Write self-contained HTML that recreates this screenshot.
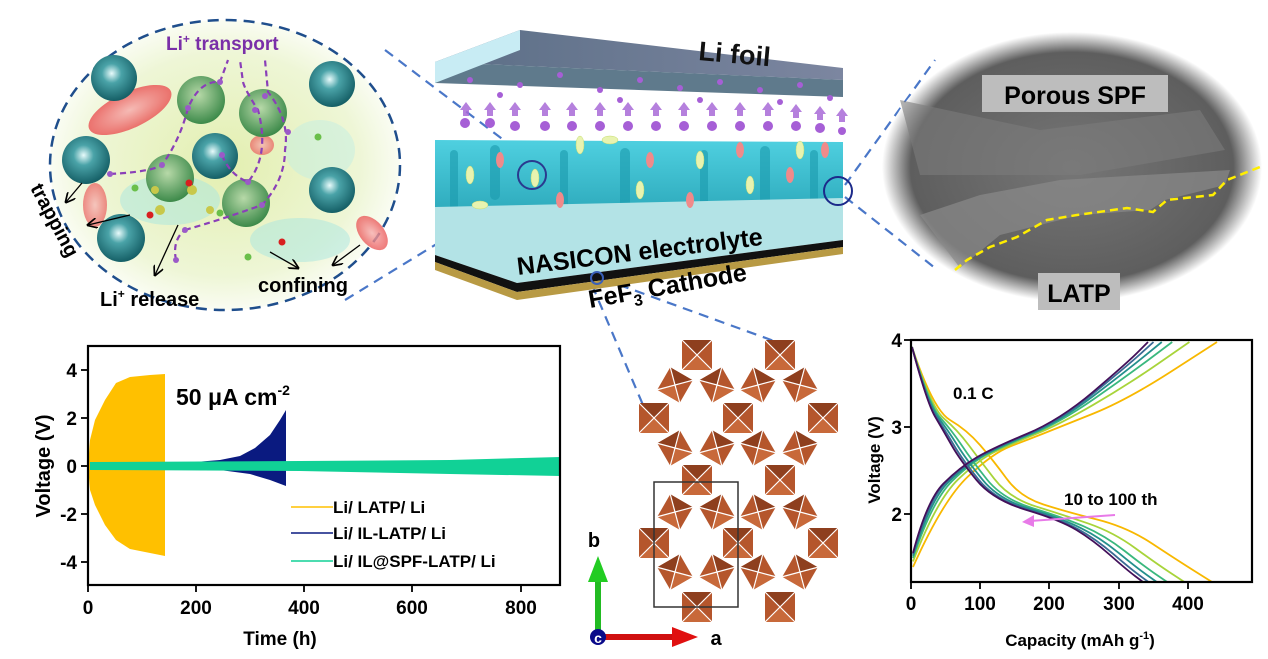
<!DOCTYPE html>
<html><head><meta charset="utf-8"><style>
html,body{margin:0;padding:0;background:#fff}
svg{display:block}
text{font-family:"Liberation Sans",Arial,sans-serif;font-weight:bold}
</style></head><body>
<svg id="s" width="1268" height="659" viewBox="0 0 1268 659" xmlns="http://www.w3.org/2000/svg">
<defs>
<radialGradient id="teal" cx="0.45" cy="0.4" r="0.6"><stop offset="0" stop-color="#e8fbfb"/><stop offset="0.35" stop-color="#4aa3a8"/><stop offset="1" stop-color="#155f66"/></radialGradient>
<radialGradient id="grn" cx="0.45" cy="0.4" r="0.6"><stop offset="0" stop-color="#b7d9a8"/><stop offset="1" stop-color="#3d8a4a"/></radialGradient>
<radialGradient id="bg1" cx="0.5" cy="0.5" r="0.55"><stop offset="0" stop-color="#e3efb0"/><stop offset="0.7" stop-color="#eef6d6"/><stop offset="1" stop-color="#ffffff"/></radialGradient>
<radialGradient id="sem" cx="0.5" cy="0.5" r="0.5"><stop offset="0" stop-color="#767676"/><stop offset="0.85" stop-color="#5e5e5e"/><stop offset="1" stop-color="#ffffff"/></radialGradient>
<radialGradient id="red" cx="0.5" cy="0.5" r="0.5"><stop offset="0" stop-color="#f7b0b0"/><stop offset="1" stop-color="#ea5a5a"/></radialGradient>
<linearGradient id="foil" x1="0" y1="0" x2="1" y2="0"><stop offset="0" stop-color="#5b6e86"/><stop offset="1" stop-color="#7c86a0"/></linearGradient>
<linearGradient id="cyan" x1="0" y1="0" x2="0" y2="1"><stop offset="0" stop-color="#4fd0e0"/><stop offset="1" stop-color="#2aa6b8"/></linearGradient>
<marker id="ah" markerWidth="8" markerHeight="8" refX="7" refY="4" orient="auto"><path d="M0 0 L8 4 L0 8" fill="none" stroke="#000" stroke-width="1.3"/></marker>
</defs>

<ellipse cx="225" cy="165" rx="175" ry="145" fill="url(#bg1)"/>
<ellipse cx="225" cy="165" rx="175" ry="145" fill="none" stroke="#1f4e8c" stroke-width="2.5" stroke-dasharray="11 7"/>
<ellipse cx="130" cy="110" rx="45" ry="18" transform="rotate(-25 130 110)" fill="url(#red)" opacity="0.85"/>
<ellipse cx="95" cy="205" rx="12" ry="22" fill="url(#red)" opacity="0.7"/>
<ellipse cx="372" cy="233" rx="12" ry="20" transform="rotate(-40 372 233)" fill="url(#red)" opacity="0.8"/>
<ellipse cx="262" cy="145" rx="12" ry="10" fill="url(#red)" opacity="0.7"/>
<ellipse cx="170" cy="200" rx="50" ry="25" fill="#a8e6e0" opacity="0.5"/>
<ellipse cx="300" cy="240" rx="50" ry="22" fill="#a8e6e0" opacity="0.5"/>
<ellipse cx="320" cy="150" rx="35" ry="30" fill="#bfeee5" opacity="0.45"/>
<g fill="url(#grn)"><circle cx="201" cy="100" r="24"/><circle cx="263" cy="113" r="24"/><circle cx="170" cy="178" r="24"/><circle cx="246" cy="203" r="24"/></g>
<g fill="url(#teal)"><circle cx="114" cy="78" r="23"/><circle cx="86" cy="160" r="24"/><circle cx="121" cy="238" r="24"/><circle cx="215" cy="156" r="23"/><circle cx="332" cy="84" r="23"/><circle cx="332" cy="190" r="23"/></g>
<g fill="none" stroke="#8a3fb8" stroke-width="2.2" stroke-dasharray="6 4">
<path d="M110 174 Q150 172 162 165 Q180 140 188 108 Q200 80 220 82 L228 60"/>
<path d="M185 230 Q220 220 262 205 Q285 180 285 150 Q290 120 268 92 L265 60"/>
<path d="M222 155 Q230 175 248 182 Q270 155 258 110 Q245 90 243 82 L240 60"/>
<path d="M176 260 Q172 240 185 230"/>
</g>
<g fill="#9b5ac8"><circle cx="110" cy="174" r="3"/><circle cx="162" cy="165" r="3"/><circle cx="188" cy="108" r="3"/><circle cx="220" cy="82" r="3"/><circle cx="255" cy="110" r="3"/><circle cx="265" cy="96" r="3"/><circle cx="222" cy="155" r="3"/><circle cx="248" cy="182" r="3"/><circle cx="262" cy="205" r="3"/><circle cx="185" cy="230" r="3"/><circle cx="176" cy="260" r="3"/><circle cx="288" cy="132" r="3"/></g>
<g fill="#c8c84a"><circle cx="160" cy="210" r="5"/><circle cx="192" cy="190" r="5"/><circle cx="155" cy="190" r="4"/><circle cx="210" cy="210" r="4"/></g>
<g fill="#d81f1f"><circle cx="150" cy="215" r="3.5"/><circle cx="189" cy="183" r="3.5"/><circle cx="282" cy="242" r="3.5"/></g>
<g fill="#6abf4a"><circle cx="135" cy="188" r="3.5"/><circle cx="220" cy="213" r="3.5"/><circle cx="248" cy="257" r="3.5"/><circle cx="318" cy="137" r="3.5"/></g>
<text x="166" y="50" font-size="19" fill="#7a2fa8">Li<tspan font-size="12" dy="-7">+</tspan><tspan dy="7"> transport</tspan></text>
<text transform="translate(30,188) rotate(62)" font-size="20" fill="#000">trapping</text>
<text x="100" y="306" font-size="20" fill="#000">Li<tspan font-size="12" dy="-8">+</tspan><tspan dy="8"> release</tspan></text>
<text x="258" y="292" font-size="20" fill="#000">confining</text>
<g stroke="#000" stroke-width="1.3" fill="none" marker-end="url(#ah)">
<path d="M82 183 L66 202"/><path d="M130 215 L88 225"/><path d="M178 225 L155 275"/><path d="M270 252 L298 268"/><path d="M360 245 L333 265"/>
</g>

<g stroke="#4a77c8" stroke-width="2.2" stroke-dasharray="10 7" fill="none">
<path d="M385 50 L530 160"/><path d="M345 300 L525 190"/>
<path d="M845 185 L935 60"/><path d="M845 197 L935 268"/>
<path d="M592 285 L643 405"/><path d="M603 279 L785 345"/>
</g>

<polygon points="435,62 520,30 843,68 843,80" fill="url(#foil)"/>
<polygon points="435,62 843,80 843,97 435,83" fill="#5f7a8c"/>
<polygon points="435,62 520,30 520,50 435,83" fill="#c8ecf4"/>
<polygon points="435,140 843,142 843,215 435,220" fill="url(#cyan)"/>
<g fill="#1a9aad" opacity="0.6"><rect x="450" y="150" width="8" height="60" rx="4"/><rect x="490" y="145" width="10" height="55" rx="5"/><rect x="560" y="150" width="8" height="60" rx="4"/><rect x="620" y="148" width="10" height="60" rx="5"/><rect x="700" y="150" width="8" height="58" rx="4"/><rect x="760" y="146" width="10" height="60" rx="5"/><rect x="810" y="150" width="8" height="55" rx="4"/></g>
<polygon points="435,207 843,198 843,240 517,283 435,255" fill="#b3e3e6"/>
<polygon points="435,255 517,283 843,240 843,247 517,292 435,262" fill="#111"/>
<polygon points="435,262 517,292 843,247 843,254 517,300 435,270" fill="#b89a44"/>
<g fill="#a65fd6">
<circle cx="465" cy="123" r="5"/><circle cx="490" cy="123" r="5"/><circle cx="515" cy="126" r="5"/><circle cx="545" cy="126" r="5"/><circle cx="572" cy="126" r="5"/><circle cx="600" cy="126" r="5"/><circle cx="628" cy="126" r="5"/><circle cx="656" cy="126" r="5"/><circle cx="684" cy="126" r="5"/><circle cx="712" cy="126" r="5"/><circle cx="740" cy="126" r="5"/><circle cx="768" cy="126" r="5"/><circle cx="796" cy="126" r="5"/><circle cx="820" cy="128" r="5"/><circle cx="842" cy="131" r="4"/>
<circle cx="520" cy="85" r="3"/><circle cx="560" cy="75" r="3"/><circle cx="600" cy="90" r="3"/><circle cx="640" cy="80" r="3"/><circle cx="680" cy="88" r="3"/><circle cx="720" cy="82" r="3"/><circle cx="760" cy="90" r="3"/><circle cx="800" cy="85" r="3"/><circle cx="470" cy="80" r="3"/><circle cx="500" cy="95" r="3"/><circle cx="620" cy="100" r="3"/><circle cx="700" cy="100" r="3"/><circle cx="780" cy="102" r="3"/><circle cx="830" cy="98" r="3"/>
</g>
<g fill="#a96ad8" opacity="0.85">
<path d="M460 110 l6 -8 l6 8 h-3 v6 h-6 v-6z"/><path d="M484 110 l6 -8 l6 8 h-3 v6 h-6 v-6z"/><path d="M509 110 l6 -8 l6 8 h-3 v6 h-6 v-6z"/><path d="M539 110 l6 -8 l6 8 h-3 v6 h-6 v-6z"/><path d="M566 110 l6 -8 l6 8 h-3 v6 h-6 v-6z"/><path d="M594 110 l6 -8 l6 8 h-3 v6 h-6 v-6z"/><path d="M622 110 l6 -8 l6 8 h-3 v6 h-6 v-6z"/><path d="M650 110 l6 -8 l6 8 h-3 v6 h-6 v-6z"/><path d="M678 110 l6 -8 l6 8 h-3 v6 h-6 v-6z"/><path d="M706 110 l6 -8 l6 8 h-3 v6 h-6 v-6z"/><path d="M734 110 l6 -8 l6 8 h-3 v6 h-6 v-6z"/><path d="M762 110 l6 -8 l6 8 h-3 v6 h-6 v-6z"/><path d="M790 112 l6 -8 l6 8 h-3 v6 h-6 v-6z"/><path d="M814 114 l6 -8 l6 8 h-3 v6 h-6 v-6z"/><path d="M836 116 l6 -8 l6 8 h-3 v6 h-6 v-6z"/>
</g>
<g fill="#e8f3b0" stroke="#c6dd70" stroke-width="0.5">
<ellipse cx="470" cy="175" rx="4" ry="9"/><ellipse cx="535" cy="178" rx="4" ry="9"/><ellipse cx="580" cy="145" rx="4" ry="9"/><ellipse cx="640" cy="190" rx="4" ry="9"/><ellipse cx="700" cy="160" rx="4" ry="9"/><ellipse cx="750" cy="185" rx="4" ry="9"/><ellipse cx="800" cy="150" rx="4" ry="9"/><ellipse cx="480" cy="205" rx="8" ry="4"/><ellipse cx="610" cy="140" rx="8" ry="4"/></g>
<g fill="#f08a8a"><ellipse cx="500" cy="160" rx="4" ry="8"/><ellipse cx="560" cy="200" rx="4" ry="8"/><ellipse cx="650" cy="160" rx="4" ry="8"/><ellipse cx="690" cy="200" rx="4" ry="8"/><ellipse cx="740" cy="150" rx="4" ry="8"/><ellipse cx="790" cy="175" rx="4" ry="8"/><ellipse cx="825" cy="150" rx="4" ry="8"/></g>
<circle cx="532" cy="175" r="14" fill="none" stroke="#2a3a8f" stroke-width="2"/>
<circle cx="838" cy="191" r="14" fill="none" stroke="#1c2a8a" stroke-width="2"/>
<circle cx="597" cy="278" r="6" fill="none" stroke="#3a60b8" stroke-width="2"/>
<text transform="translate(698,60) rotate(5)" font-size="27" fill="#111">Li foil</text>
<text transform="translate(518,275) rotate(-7)" font-size="25" fill="#000">NASICON electrolyte</text>
<text transform="translate(590,308) rotate(-10)" font-size="25" fill="#000">FeF<tspan font-size="16" dy="6">3</tspan><tspan dy="-6"> Cathode</tspan></text>

<ellipse cx="1072" cy="167" rx="190" ry="135" fill="url(#sem)"/>
<polygon points="920,215 980,195 1060,180 1230,170 1225,185 1165,200 1150,210 1080,215 1000,235 960,268" fill="#8a8a8a" opacity="0.7"/>
<polygon points="900,100 1040,130 1200,110 1225,150 1080,175 920,175" fill="#7c7c7c" opacity="0.6"/>
<polyline points="955,270 967,260 990,247 1017,237 1047,220 1077,215 1127,208 1153,212 1167,200 1213,195 1227,180 1260,167" fill="none" stroke="#ffee00" stroke-width="2.5" stroke-dasharray="8 5"/>
<rect x="982" y="75" width="186" height="37" fill="#bdbdbd"/>
<text x="1075" y="104" font-size="25" text-anchor="middle" fill="#000">Porous SPF</text>
<rect x="1038" y="273" width="82" height="37" fill="#bdbdbd"/>
<text x="1079" y="302" font-size="25" text-anchor="middle" fill="#000">LATP</text>

<polygon points="88,466 90,440 95,420 105,400 116,383 130,377 150,375 165,374 165,556 150,553 130,549 116,540 105,525 95,505 90,490" fill="#ffc000"/>
<polygon points="195,462 220,460 240,456 255,448 270,435 280,420 286,410 286,486 270,480 250,474 220,470 195,468" fill="#0a1a80"/>
<polygon points="90,462 300,461 450,460 560,457 560,476 450,474 300,471 90,470" fill="#11d196"/>
<rect x="88" y="346" width="472" height="239" fill="none" stroke="#000" stroke-width="2.2"/>
<g stroke="#000" stroke-width="1.8">
<line x1="88" y1="370" x2="81" y2="370"/><line x1="88" y1="418" x2="81" y2="418"/><line x1="88" y1="466" x2="81" y2="466"/><line x1="88" y1="514" x2="81" y2="514"/><line x1="88" y1="562" x2="81" y2="562"/>
<line x1="88" y1="585" x2="88" y2="592"/><line x1="196" y1="585" x2="196" y2="592"/><line x1="304" y1="585" x2="304" y2="592"/><line x1="412" y1="585" x2="412" y2="592"/><line x1="521" y1="585" x2="521" y2="592"/>
</g>
<g font-size="19" text-anchor="end"><text x="77" y="377">4</text><text x="77" y="425">2</text><text x="77" y="473">0</text><text x="77" y="521">-2</text><text x="77" y="569">-4</text></g>
<g font-size="19" text-anchor="middle"><text x="88" y="614">0</text><text x="196" y="614">200</text><text x="304" y="614">400</text><text x="412" y="614">600</text><text x="521" y="614">800</text></g>
<text x="280" y="645" font-size="19" text-anchor="middle">Time (h)</text>
<text transform="translate(50,466) rotate(-90)" font-size="20" text-anchor="middle">Voltage (V)</text>
<text x="176" y="405" font-size="23">50 μA cm<tspan font-size="14" dy="-10">-2</tspan></text>
<line x1="291" y1="507" x2="333" y2="507" stroke="#ffc000" stroke-width="1.5"/>
<line x1="291" y1="533" x2="333" y2="533" stroke="#0a1a80" stroke-width="1.5"/>
<line x1="291" y1="561" x2="333" y2="561" stroke="#11d196" stroke-width="1.5"/>
<g font-size="17"><text x="333" y="513">Li/ LATP/ Li</text><text x="333" y="539">Li/ IL-LATP/ Li</text><text x="333" y="567">Li/ IL@SPF-LATP/ Li</text></g>

<g id="cr"></g>
<rect x="654" y="482" width="84" height="125" fill="none" stroke="#333" stroke-width="1.5"/>
<line x1="598" y1="637" x2="598" y2="580" stroke="#22bb22" stroke-width="6"/>
<polygon points="588,582 608,582 598,556" fill="#22cc22"/>
<line x1="598" y1="637" x2="675" y2="637" stroke="#d01010" stroke-width="6"/>
<polygon points="672,627 672,647 698,637" fill="#e01010"/>
<circle cx="598" cy="637" r="8" fill="#0a0a8a"/>
<text x="598" y="643" font-size="14" fill="#fff" text-anchor="middle">c</text>
<text x="594" y="547" font-size="20" text-anchor="middle">b</text>
<text x="716" y="645" font-size="20" text-anchor="middle">a</text>

<g id="cv" fill="none" stroke-width="1.8"></g>
<rect x="911" y="340" width="341" height="242" fill="none" stroke="#000" stroke-width="2.2"/>
<g stroke="#000" stroke-width="1.8">
<line x1="911" y1="340" x2="904" y2="340"/><line x1="911" y1="427" x2="904" y2="427"/><line x1="911" y1="514" x2="904" y2="514"/>
<line x1="911" y1="582" x2="911" y2="589"/><line x1="980" y1="582" x2="980" y2="589"/><line x1="1049" y1="582" x2="1049" y2="589"/><line x1="1119" y1="582" x2="1119" y2="589"/><line x1="1188" y1="582" x2="1188" y2="589"/>
</g>
<g font-size="19" text-anchor="end"><text x="902" y="347">4</text><text x="902" y="434">3</text><text x="902" y="521">2</text></g>
<g font-size="19" text-anchor="middle"><text x="911" y="610">0</text><text x="980" y="610">100</text><text x="1049" y="610">200</text><text x="1119" y="610">300</text><text x="1188" y="610">400</text></g>
<text x="1080" y="646" font-size="17" text-anchor="middle">Capacity (mAh g<tspan font-size="11" dy="-7">-1</tspan><tspan dy="7">)</tspan></text>
<text transform="translate(880,460) rotate(-90)" font-size="17" text-anchor="middle">Voltage (V)</text>
<text x="953" y="399" font-size="17">0.1 C</text>
<text x="1064" y="505" font-size="17">10 to 100 th</text>
<line x1="1115" y1="515" x2="1030" y2="521" stroke="#e87ae8" stroke-width="2"/>
<polygon points="1022,522 1034,515 1034,527" fill="#e87ae8"/>
</svg>
<script>
var N='http://www.w3.org/2000/svg',cr=document.getElementById('cr');
function el(t,a,p){var e=document.createElementNS(N,t);for(var k in a)e.setAttribute(k,a[k]);p.appendChild(e);return e;}
function oct(x,y,s,r){var g=el('g',{transform:'translate('+x+','+y+') rotate('+r+')'},cr);var h=s/2;
el('rect',{x:-h,y:-h,width:s,height:s,fill:'#b5562c'},g);
el('polygon',{points:(-h)+','+(-h)+' '+h+','+(-h)+' 0,0',fill:'#8e3f1e'},g);
el('polygon',{points:(-h)+','+(h)+' '+h+','+(h)+' 0,0',fill:'#c8693a'},g);
el('path',{d:'M'+(-h)+' '+(-h)+'L'+h+' '+h+'M'+h+' '+(-h)+'L'+(-h)+' '+h,stroke:'#fff','stroke-width':1.2},g);}
[[697,355],[780,355],[654,418],[738,418],[823,418],[697,480],[780,480],[654,543],[738,543],[823,543],[697,607],[780,607]].forEach(function(p){oct(p[0],p[1],30,0)});
[385,448,512,572].forEach(function(y,i){[675,717,758,800].forEach(function(x,j){oct(x,y,26,(j%2?-1:1)*(i%2?-30:30))})});
var cv=document.getElementById('cv');
var pc=[[913,553],[927,500],[960,467],[993,448],[1060,420],[1127,363],[1148,342]];
var yc=[[913,567],[943,500],[993,453],[1027,440],[1060,427],[1127,400],[1217,342]];
var pd=[[912,347],[927,403],[943,430],[960,460],[993,500],[1060,520],[1093,540],[1127,570],[1143,582]];
var yd=[[912,347],[933,410],[967,430],[993,460],[1020,497],[1067,512],[1127,527],[1177,560],[1212,582]];
var cols=['#f8b800','#a8d43a','#3ab87e','#24908c','#3a6a94','#43105a'],ts=[1,0.6,0.35,0.2,0.08,0];
function path(a,b,t){var p=[];for(var i=0;i<a.length;i++)p.push([a[i][0]*(1-t)+b[i][0]*t,a[i][1]*(1-t)+b[i][1]*t]);
var d='M'+p[0][0].toFixed(1)+' '+p[0][1].toFixed(1);
for(var i=1;i<p.length-1;i++){var mx=(p[i][0]+p[i+1][0])/2,my=(p[i][1]+p[i+1][1])/2;d+=' Q'+p[i][0].toFixed(1)+' '+p[i][1].toFixed(1)+' '+mx.toFixed(1)+' '+my.toFixed(1);}
var l=p[p.length-1];d+=' L'+l[0].toFixed(1)+' '+l[1].toFixed(1);return d;}
cols.forEach(function(c,i){el('path',{d:path(pc,yc,ts[i]),stroke:c,'stroke-linejoin':'round'},cv);el('path',{d:path(pd,yd,ts[i]),stroke:c,'stroke-linejoin':'round'},cv);});
</script>
</body></html>
